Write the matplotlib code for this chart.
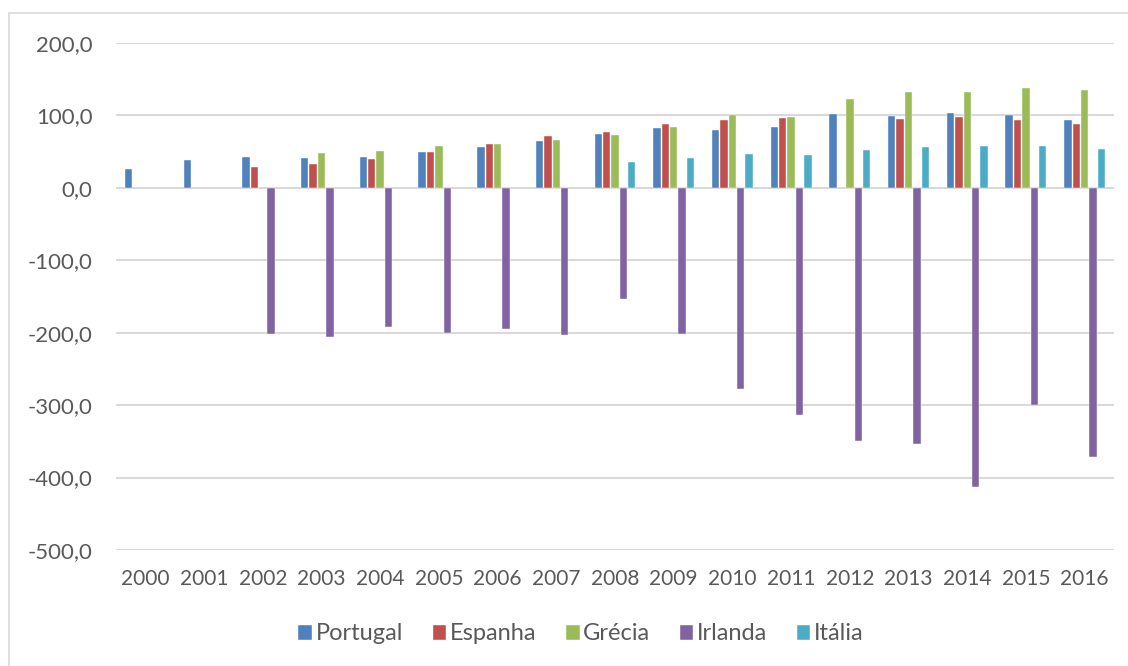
import numpy as np
import matplotlib
matplotlib.use("Agg")
import matplotlib.pyplot as plt
from matplotlib.patches import Rectangle

years = [str(y) for y in range(2000, 2017)]

# nan = no bar that year
nan = np.nan
portugal = [26.2, 38.6, 42.7, 41.3, 42.7, 50.0, 56.9, 64.7, 73.9, 82.6, 80.3, 84.0, 101.8, 99.5, 103.7, 100.5, 93.6]
espanha = [nan, nan, 29.3, 33.0, 40.0, 50.0, 61.0, 71.6, 77.0, 88.5, 93.1, 96.3, nan, 94.5, 97.2, 93.6, 88.0]
grecia = [nan, nan, nan, 47.7, 51.0, 57.3, 60.0, 66.0, 73.0, 84.0, 100.5, 98.2, 123.0, 132.6, 132.6, 137.2, 135.3]
irlanda = [nan, nan, -202.3, -206.4, -192.7, -200.9, -195.0, -203.7, -152.9, -202.3, -277.3, -313.0, -349.2, -354.0, -413.7, -299.5, -371.6]
italia = [nan, nan, nan, nan, nan, nan, nan, nan, 36.2, 40.8, 47.2, 45.4, 51.8, 56.4, 57.8, 58.3, 53.7]

series = [("Portugal", portugal, "#4F81BD"),
          ("Espanha", espanha, "#C0504D"),
          ("Grécia", grecia, "#9BBB59"),
          ("Irlanda", irlanda, "#8064A2"),
          ("Itália", italia, "#4BACC6")]

plt.rcParams["font.family"] = ["Lato", "DejaVu Sans"]
txt = "#595959"

fig = plt.figure(figsize=(11.28, 6.66), dpi=100)
ax = fig.add_axes([116 / 1128, 1 - 550 / 666, 998 / 1128, 507 / 666])

# chart border, runs off the right and bottom edge
fig.patches.append(Rectangle((9 / 1128, -0.05), 1.1, 1 - 13 / 666 + 0.05,
                             transform=fig.transFigure, fill=False,
                             edgecolor="#D9D9D9", linewidth=1.2))

x = np.arange(len(years))
w = 1 / 7
for i, (name, vals, col) in enumerate(series):
    ax.bar(x + (i - 2) * w, vals, width=w * 0.88, color=col, label=name,
           edgecolor="white", linewidth=0.3, zorder=3)

ax.set_xlim(-0.5, len(years) - 0.5)
ax.set_ylim(-500, 200)
ax.set_yticks(np.arange(-500, 201, 100))
ax.set_yticklabels([f"{v:.1f}".replace(".", ",") for v in np.arange(-500, 201, 100)])
ax.set_xticks(x)
ax.set_xticklabels(years)
ax.grid(axis="y", color="#D9D9D9", linewidth=1.5, zorder=0)
for s in ax.spines.values():
    s.set_visible(False)
ax.tick_params(axis="y", length=0, pad=17, labelsize=16, labelcolor=txt)
ax.tick_params(axis="x", length=0, pad=14, labelsize=15, labelcolor=txt)

fig.legend(loc="center", bbox_to_anchor=(581 / 1128, 1 - 634 / 666), ncol=5,
           frameon=False, fontsize=17, labelcolor=txt, handlelength=0.58,
           handleheight=0.58, handletextpad=0.15, columnspacing=1.25)

fig.savefig("out.png", dpi=100)
